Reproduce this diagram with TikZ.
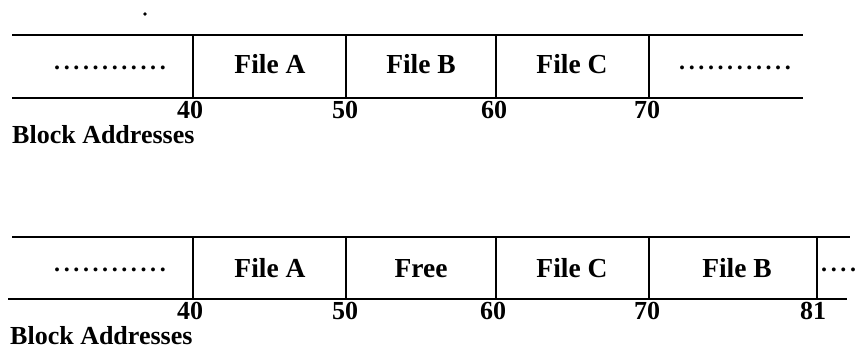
\documentclass[tikz,border=0pt]{standalone}
\usepackage{fontspec}
\setmainfont{Liberation Serif}

\newcommand{\dotrow}[1]{\foreach \i in {1,...,#1}{.\hspace{3.6pt}}\unskip}

\begin{document}
\begin{tikzpicture}[x=1pt, y=-1pt]
        \tikzstyle{rail} = [line width=2.6pt]
        \tikzstyle{wall} = [line width=1.8pt]
        \tikzstyle{cell} = [anchor=base, inner sep=0pt, font=\fontsize{27.5}{30}\selectfont\bfseries]
        \tikzstyle{addr} = [anchor=base, inner sep=0pt, font=\fontsize{26}{30}\selectfont\bfseries]
        \tikzstyle{leader} = [anchor=base, inner sep=0pt, font=\fontsize{24}{30}\selectfont\bfseries]

        \useasboundingbox (0,0) rectangle (855,350);

        \fill (145,14) circle (1.8pt);

        % before the move
        \coordinate (top_l) at (12, 35);
        \coordinate (top_r) at (803, 35);
        \coordinate (bot_l) at (12, 98);
        \coordinate (bot_r) at (803, 98);

        \node[leader] at (110, 70) (u_free1) {\dotrow{12}};
        \node[cell] at (270, 74) (u_a) {File A};
        \node[cell] at (421, 74) (u_b) {File B};
        \node[cell] at (572, 74) (u_c) {File C};
        \node[leader] at (735, 70) (u_free2) {\dotrow{12}};

        \node[addr] at (190, 119) (u_40) {40};
        \node[addr] at (345, 119) (u_50) {50};
        \node[addr] at (494, 119) (u_60) {60};
        \node[addr] at (647, 119) (u_70) {70};
        \node[addr, anchor=base west] at (12, 144) (u_lbl) {Block Addresses};

        \draw[rail] (top_l) -- (top_r);
        \draw[rail] (bot_l) -- (bot_r);
        \foreach \x in {193, 346, 496, 649}
          \draw[wall] (\x, 35) -- (\x, 98);

        % after the move
        \coordinate (ltop_l) at (12, 237);
        \coordinate (ltop_r) at (850, 237);
        \coordinate (lbot_l) at (8, 299);
        \coordinate (lbot_r) at (847, 299);

        \node[leader] at (110, 272) (l_free1) {\dotrow{12}};
        \node[cell] at (270, 277) (l_a) {File A};
        \node[cell] at (421, 277) (l_free) {Free};
        \node[cell] at (572, 277) (l_c) {File C};
        \node[cell] at (737, 277) (l_b) {File B};
        \node[leader, anchor=base west] at (821, 272) (l_free2) {\dotrow{4}};

        \node[addr] at (190, 319) (l_40) {40};
        \node[addr] at (345, 319) (l_50) {50};
        \node[addr] at (493, 319) (l_60) {60};
        \node[addr] at (647, 319) (l_70) {70};
        \node[addr] at (813, 319) (l_81) {81};
        \node[addr, anchor=base west] at (10, 344) (l_lbl) {Block Addresses};

        \draw[rail] (ltop_l) -- (ltop_r);
        \draw[rail] (lbot_l) -- (lbot_r);
        \foreach \x in {193, 346, 496, 649, 817}
          \draw[wall] (\x, 237) -- (\x, 299);
      \end{tikzpicture}
\end{document}
